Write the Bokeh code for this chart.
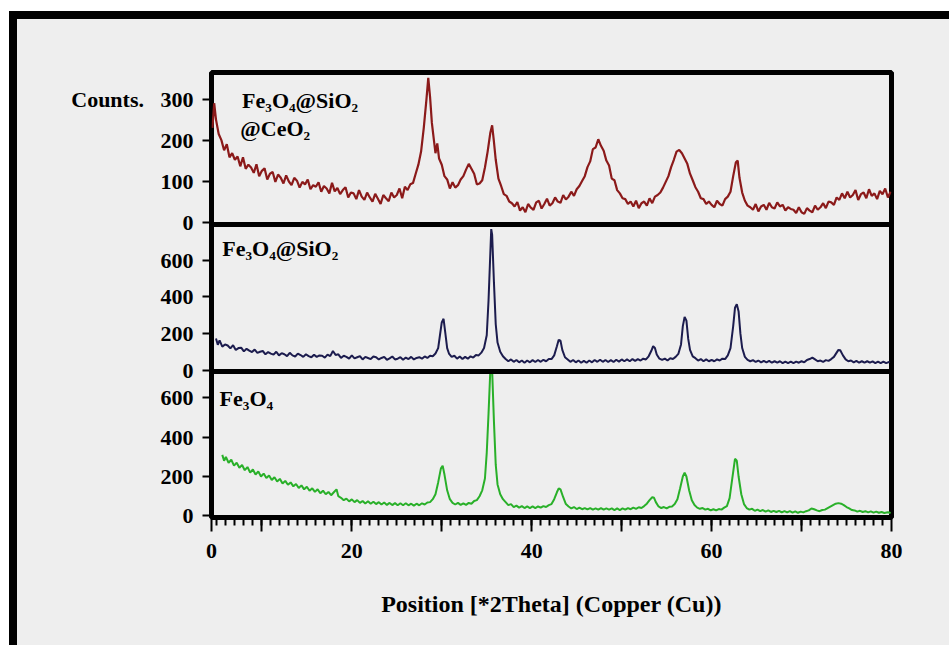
from bokeh.plotting import figure
from bokeh.models import Range1d, FixedTicker, Span, Label
from bokeh.layouts import column
from bokeh.embed import file_html
from bokeh.resources import INLINE

# ---------------- data ----------------
red_x = [4.5, 4.7, 4.9, 5.2, 5.5, 5.8, 6.1, 6.4, 6.7, 7.0, 7.3, 7.6, 7.9, 8.2, 8.5, 8.8, 9.1, 9.4, 9.7, 10.0,
         10.3, 10.6, 10.9, 11.2, 11.5, 11.8, 12.1, 12.4, 12.7, 13.0, 13.3, 13.6, 13.9, 14.2, 14.5, 14.8, 15.1, 15.4, 15.7, 16.0,
         16.3, 16.6, 16.9, 17.2, 17.5, 17.8, 18.1, 18.4, 18.7, 19.0, 19.3, 19.6, 19.9, 20.2, 20.5, 20.8, 21.1, 21.4, 21.7, 22.0,
         22.3, 22.6, 22.9, 23.2, 23.5, 23.8, 24.1, 24.4, 24.7, 25.0, 25.3, 25.6, 25.9, 26.2, 26.5, 26.8, 27.1, 27.4, 27.7, 28.0,
         28.3, 28.5, 28.7, 28.9, 29.1, 29.3, 29.5, 29.7, 30.0, 30.3, 30.6, 30.9, 31.2, 31.5, 31.8, 32.1, 32.4, 32.7, 33.0, 33.3,
         33.6, 33.9, 34.2, 34.5, 34.8, 35.1, 35.4, 35.6, 35.8, 36.0, 36.3, 36.6, 36.9, 37.2, 37.5, 37.8, 38.1, 38.4, 38.7, 39.0,
         39.3, 39.6, 39.9, 40.2, 40.5, 40.8, 41.1, 41.4, 41.7, 42.0, 42.3, 42.6, 42.9, 43.2, 43.5, 43.8, 44.1, 44.4, 44.7, 45.0,
         45.3, 45.6, 45.9, 46.2, 46.5, 46.8, 47.1, 47.4, 47.7, 48.0, 48.3, 48.6, 48.9, 49.2, 49.5, 49.8, 50.1, 50.4, 50.7, 51.0,
         51.3, 51.6, 51.9, 52.2, 52.5, 52.8, 53.1, 53.4, 53.7, 54.0, 54.3, 54.6, 54.9, 55.2, 55.5, 55.8, 56.1, 56.4, 56.7, 57.0,
         57.3, 57.6, 57.9, 58.2, 58.5, 58.8, 59.1, 59.4, 59.7, 60.0, 60.3, 60.6, 60.9, 61.2, 61.5, 61.8, 62.1, 62.4, 62.7, 62.9,
         63.1, 63.4, 63.7, 64.0, 64.3, 64.6, 64.9, 65.2, 65.5, 65.8, 66.1, 66.4, 66.7, 67.0, 67.3, 67.6, 67.9, 68.2, 68.5, 68.8,
         69.1, 69.4, 69.7, 70.0, 70.3, 70.6, 70.9, 71.2, 71.5, 71.8, 72.1, 72.4, 72.7, 73.0, 73.3, 73.6, 73.9, 74.2, 74.5, 74.8,
         75.1, 75.4, 75.7, 76.0, 76.3, 76.6, 76.9, 77.2, 77.5, 77.8, 78.1, 78.4, 78.7, 79.0, 79.3, 79.6, 79.9]
red_y = [230, 290, 250, 215, 200, 175, 190, 158, 168, 152, 160, 136, 158, 130, 140, 133, 120, 141, 112, 125,
         131, 104, 118, 122, 98, 116, 108, 94, 114, 99, 90, 108, 101, 84, 98, 92, 104, 80, 90, 86,
         97, 74, 88, 82, 70, 96, 75, 83, 68, 78, 85, 60, 72, 70, 56, 78, 62, 54, 72, 60,
         50, 69, 57, 44, 66, 58, 51, 72, 60, 66, 82, 58, 86, 78, 92, 95, 118, 140, 172, 230,
         300, 352, 305, 242, 205, 168, 192, 155, 140, 112, 104, 82, 97, 84, 90, 104, 112, 128, 142, 130,
         118, 92, 94, 102, 133, 172, 218, 236, 196, 152, 106, 88, 68, 64, 50, 46, 38, 49, 28, 36,
         24, 44, 35, 30, 48, 52, 33, 44, 57, 40, 46, 60, 50, 47, 66, 55, 62, 74, 64, 80,
         88, 100, 112, 134, 148, 178, 182, 202, 186, 174, 150, 138, 106, 102, 78, 70, 58, 56, 44, 50,
         38, 52, 34, 46, 50, 40, 58, 46, 62, 66, 72, 84, 98, 112, 134, 152, 172, 176, 168, 155,
         142, 118, 102, 85, 74, 58, 56, 44, 50, 42, 36, 52, 44, 40, 56, 62, 74, 112, 146, 150,
         108, 72, 52, 40, 36, 30, 44, 26, 38, 42, 30, 47, 36, 33, 48, 38, 42, 28, 36, 32,
         30, 22, 36, 24, 20, 34, 28, 24, 40, 30, 36, 46, 34, 50, 48, 42, 60, 54, 70, 58,
         74, 60, 66, 78, 54, 68, 72, 58, 80, 64, 70, 56, 76, 68, 82, 60, 74]

blue_x = [4.9, 5.1, 5.3, 5.6, 5.9, 6.2, 6.5, 6.8, 7.1, 7.4, 7.7, 8.0, 8.3, 8.6, 8.9, 9.2, 9.5, 9.8, 10.1, 10.4,
          10.7, 11.0, 11.3, 11.6, 11.9, 12.2, 12.5, 12.8, 13.1, 13.4, 13.7, 14.0, 14.3, 14.6, 14.9, 15.2, 15.5, 15.8, 16.1, 16.4,
          16.7, 17.0, 17.3, 17.6, 17.9, 18.2, 18.5, 18.8, 19.1, 19.4, 19.7, 20.0, 20.3, 20.6, 20.9, 21.2, 21.5, 21.8, 22.1, 22.4,
          22.7, 23.0, 23.3, 23.6, 23.9, 24.2, 24.5, 24.8, 25.1, 25.4, 25.7, 26.0, 26.3, 26.6, 26.9, 27.2, 27.5, 27.8, 28.1, 28.4,
          28.7, 29.0, 29.3, 29.6, 29.8, 30.0, 30.2, 30.4, 30.6, 30.8, 31.1, 31.4, 31.7, 32.0, 32.3, 32.6, 32.9, 33.2, 33.5, 33.8,
          34.1, 34.4, 34.7, 35.0, 35.2, 35.4, 35.5, 35.6, 35.8, 36.0, 36.2, 36.5, 36.8, 37.1, 37.4, 37.7, 38.0, 38.3, 38.6, 38.9,
          39.2, 39.5, 39.8, 40.1, 40.4, 40.7, 41.0, 41.3, 41.6, 41.9, 42.2, 42.5, 42.8, 43.0, 43.2, 43.4, 43.7, 44.0, 44.3, 44.6,
          44.9, 45.2, 45.5, 45.8, 46.1, 46.4, 46.7, 47.0, 47.3, 47.6, 47.9, 48.2, 48.5, 48.8, 49.1, 49.4, 49.7, 50.0, 50.3, 50.6,
          50.9, 51.2, 51.5, 51.8, 52.1, 52.4, 52.7, 53.0, 53.3, 53.5, 53.7, 53.9, 54.2, 54.5, 54.8, 55.1, 55.4, 55.7, 56.0, 56.3,
          56.6, 56.8, 57.0, 57.2, 57.4, 57.6, 57.9, 58.2, 58.5, 58.8, 59.1, 59.4, 59.7, 60.0, 60.3, 60.6, 60.9, 61.2, 61.5, 61.8,
          62.1, 62.4, 62.6, 62.8, 63.0, 63.2, 63.4, 63.7, 64.0, 64.3, 64.6, 64.9, 65.2, 65.5, 65.8, 66.1, 66.4, 66.7, 67.0, 67.3,
          67.6, 67.9, 68.2, 68.5, 68.8, 69.1, 69.4, 69.7, 70.0, 70.3, 70.6, 70.9, 71.2, 71.5, 71.8, 72.1, 72.4, 72.7, 73.0, 73.3,
          73.6, 73.9, 74.1, 74.3, 74.6, 74.9, 75.2, 75.5, 75.8, 76.1, 76.4, 76.7, 77.0, 77.3, 77.6, 77.9, 78.2, 78.5, 78.8, 79.1,
          79.4, 79.8]
blue_y = [172, 138, 162, 128, 140, 134, 118, 136, 110, 120, 122, 102, 116, 106, 98, 112, 94, 100, 104, 86,
          98, 90, 84, 100, 80, 92, 86, 76, 94, 80, 74, 90, 82, 72, 86, 76, 70, 84, 72, 80,
          78, 68, 84, 76, 104, 82, 86, 66, 78, 72, 62, 80, 64, 70, 76, 58, 72, 66, 60, 74,
          70, 58, 66, 72, 56, 64, 74, 58, 62, 70, 56, 68, 60, 72, 58, 66, 70, 62, 74, 66,
          78, 75, 90, 120, 190, 260, 280, 200, 120, 90, 72, 78, 62, 74, 60, 72, 62, 75, 68, 82,
          80, 95, 120, 190, 380, 640, 770, 740, 480, 250, 150, 100, 75, 60, 48, 58, 45, 55, 42, 52,
          40, 52, 42, 54, 44, 55, 45, 56, 48, 60, 60, 80, 130, 165, 160, 110, 70, 58, 45, 55,
          42, 52, 40, 50, 40, 52, 42, 55, 45, 56, 45, 55, 44, 54, 44, 56, 46, 58, 48, 58,
          48, 60, 50, 60, 52, 62, 58, 75, 105, 130, 120, 85, 62, 55, 62, 52, 64, 60, 72, 88,
          140, 240, 290, 270, 170, 110, 75, 65, 52, 60, 48, 58, 48, 56, 48, 58, 52, 62, 60, 80,
          120, 240, 340, 360, 320, 200, 120, 72, 55, 48, 54, 44, 52, 42, 50, 42, 50, 40, 48, 40,
          48, 38, 46, 38, 46, 38, 46, 40, 48, 42, 55, 60, 68, 58, 48, 52, 44, 54, 50, 60,
          72, 95, 110, 108, 80, 58, 48, 52, 42, 50, 40, 48, 40, 48, 40, 47, 38, 46, 38, 46,
          38, 45]

green_x = [5.6, 5.8, 6.0, 6.3, 6.6, 6.9, 7.2, 7.5, 7.8, 8.1, 8.4, 8.7, 9.0, 9.3, 9.6, 9.9, 10.2, 10.5, 10.8, 11.1,
           11.4, 11.7, 12.0, 12.3, 12.6, 12.9, 13.2, 13.5, 13.8, 14.1, 14.4, 14.7, 15.0, 15.3, 15.6, 15.9, 16.2, 16.5, 16.8, 17.1,
           17.4, 17.7, 18.0, 18.3, 18.5, 18.8, 19.1, 19.4, 19.7, 20.0, 20.3, 20.6, 20.9, 21.2, 21.5, 21.8, 22.1, 22.4, 22.7, 23.0,
           23.3, 23.6, 23.9, 24.2, 24.5, 24.8, 25.1, 25.4, 25.7, 26.0, 26.3, 26.6, 26.9, 27.2, 27.5, 27.8, 28.1, 28.4, 28.7, 29.0,
           29.3, 29.6, 29.9, 30.1, 30.3, 30.6, 30.9, 31.2, 31.5, 31.8, 32.1, 32.4, 32.7, 33.0, 33.3, 33.6, 33.9, 34.2, 34.5, 34.8,
           35.0, 35.2, 35.4, 35.6, 35.8, 36.0, 36.2, 36.5, 36.8, 37.1, 37.4, 37.7, 38.0, 38.3, 38.6, 38.9, 39.2, 39.5, 39.8, 40.1,
           40.4, 40.7, 41.0, 41.3, 41.6, 41.9, 42.2, 42.5, 42.8, 43.0, 43.2, 43.5, 43.8, 44.1, 44.4, 44.7, 45.0, 45.3, 45.6, 45.9,
           46.2, 46.5, 46.8, 47.1, 47.4, 47.7, 48.0, 48.3, 48.6, 48.9, 49.2, 49.5, 49.8, 50.1, 50.4, 50.7, 51.0, 51.3, 51.6, 51.9,
           52.2, 52.5, 52.8, 53.1, 53.4, 53.6, 53.8, 54.1, 54.4, 54.7, 55.0, 55.3, 55.6, 55.9, 56.2, 56.5, 56.8, 57.0, 57.2, 57.5,
           57.8, 58.1, 58.4, 58.7, 59.0, 59.3, 59.6, 59.9, 60.2, 60.5, 60.8, 61.1, 61.4, 61.7, 62.0, 62.3, 62.6, 62.8, 63.0, 63.3,
           63.6, 63.9, 64.2, 64.5, 64.8, 65.1, 65.4, 65.7, 66.0, 66.3, 66.6, 66.9, 67.2, 67.5, 67.8, 68.1, 68.4, 68.7, 69.0, 69.3,
           69.6, 69.9, 70.2, 70.5, 70.8, 71.1, 71.4, 71.7, 72.0, 72.3, 72.6, 73.0, 73.4, 73.8, 74.1, 74.4, 74.7, 75.0, 75.3, 75.6,
           75.9, 76.2, 76.5, 76.8, 77.1, 77.4, 77.7, 78.0, 78.3, 78.6, 78.9, 79.2, 79.6, 79.9]
green_y = [310, 280, 300, 270, 285, 255, 270, 245, 258, 232, 248, 220, 236, 210, 226, 200, 215, 192, 205, 182,
           196, 175, 188, 165, 178, 158, 170, 150, 162, 142, 155, 135, 148, 128, 140, 122, 135, 115, 128, 110,
           122, 105, 120, 135, 100, 92, 80, 88, 74, 84, 70, 80, 66, 76, 63, 74, 62, 72, 60, 70,
           58, 68, 56, 66, 55, 65, 54, 64, 54, 64, 54, 62, 52, 62, 54, 64, 58, 68, 70, 85,
           110, 170, 240, 255, 210, 130, 85, 66, 58, 66, 56, 64, 56, 66, 62, 76, 80, 100, 130, 190,
           320, 520, 740, 740, 480, 260, 160, 110, 85, 70, 55, 60, 45, 52, 42, 50, 40, 48, 40, 48,
           40, 48, 42, 50, 45, 55, 60, 85, 120, 140, 135, 95, 60, 48, 38, 45, 35, 42, 34, 40,
           33, 40, 32, 38, 32, 40, 32, 38, 32, 38, 30, 38, 30, 38, 32, 40, 34, 42, 36, 44,
           40, 50, 62, 80, 95, 92, 70, 48, 40, 45, 38, 46, 48, 60, 85, 140, 200, 220, 200, 130,
           80, 55, 42, 36, 40, 32, 36, 28, 34, 28, 35, 32, 42, 50, 90, 190, 290, 280, 200, 110,
           60, 40, 32, 36, 26, 32, 24, 30, 22, 28, 20, 26, 20, 26, 18, 24, 18, 24, 17, 23,
           16, 22, 18, 24, 28, 38, 34, 28, 24, 30, 32, 42, 52, 62, 65, 62, 55, 45, 38, 30,
           28, 22, 26, 20, 24, 18, 23, 17, 22, 16, 20, 15, 19, 15]

series_names = ["Fe\u2083O\u2084@SiO\u2082", "@CeO\u2082", "Fe\u2083O\u2084@SiO\u2082", "Fe\u2083O\u2084"]
series_colors = ["#8b1a1a", "#1c1c4e", "#29b029"]
top_ticks = [0, 100, 200, 300]
mid_ticks = [0, 200, 400, 600]
bot_ticks = [0, 200, 400, 600]
x_major = [10, 20, 30, 40, 50, 60, 70, 80]
x_minor = list(range(5, 80))
x_start, x_end = 4.4, 80
y_label = "Counts."
x_label = "Position [*2Theta] (Copper (Cu))"

# ---------------- layout ----------------
FONT = "Liberation Serif"
BG = "#eeeeee"
FRAME_H = 445
# band (bottom px, top px) in the frame, and count range of each panel
bands = {
    "bot": (0, 146, -8, 733),
    "mid": (146, 293, -8, 795),
    "top": (293, 445, -6, 365),
}

def band_range(name):
    b0, b1, c0, c1 = bands[name]
    s = (c1 - c0) / (b1 - b0)
    return Range1d(c0 - b0 * s, c0 + (FRAME_H - b0) * s)

def to_frame(name, v):
    b0, b1, c0, c1 = bands[name]
    return b0 + (v - c0) * (b1 - b0) / (c1 - c0)

p = figure(frame_width=680, frame_height=FRAME_H,
           min_border_left=194, min_border_right=58, min_border_top=53, min_border_bottom=128,
           x_range=Range1d(x_start, x_end), y_range=Range1d(0, FRAME_H),
           output_backend="svg", toolbar_location=None,
           background_fill_color=BG, border_fill_color=BG)
p.outline_line_color = "black"
p.outline_line_width = 5
p.xgrid.visible = False
p.ygrid.visible = False
p.extra_y_ranges = {k: band_range(k) for k in bands}

p.line(red_x, red_y, y_range_name="top", line_color=series_colors[0], line_width=2.2)
p.line(blue_x, blue_y, y_range_name="mid", line_color=series_colors[1], line_width=2)
p.line(green_x, green_y, y_range_name="bot", line_color=series_colors[2], line_width=2)

for loc in (bands["bot"][1], bands["mid"][1]):
    p.add_layout(Span(location=loc, dimension="width", line_color="black", line_width=5))

# y axis: ticks of all three panels on one left axis
yt, yl = [], {}
for name, ticks in (("top", top_ticks), ("mid", mid_ticks), ("bot", bot_ticks)):
    for t in ticks:
        pos = to_frame(name, t)
        yt.append(pos)
        yl[pos] = str(t)
yl[to_frame("top", 300)] = y_label + "\u00a0\u00a0\u00a0300"
ya = p.yaxis[0]
ya.ticker = FixedTicker(ticks=yt, minor_ticks=[])
ya.major_label_overrides = yl
ya.axis_line_color = None
ya.major_tick_out = 9
ya.major_tick_in = 0
ya.major_tick_line_width = 2
ya.major_label_standoff = 9
ya.major_label_text_font = FONT
ya.major_label_text_font_style = "bold"
ya.major_label_text_font_size = "22px"
ya.major_label_text_color = "black"

xa = p.xaxis[0]
xa.ticker = FixedTicker(ticks=[x_start] + x_major, minor_ticks=x_minor)
xa.major_label_overrides = {x_start: "0", 10: "", 30: "", 50: "", 70: ""}
xa.axis_line_color = None
xa.major_tick_out = 14
xa.major_tick_in = 0
xa.minor_tick_out = 8
xa.minor_tick_in = 0
xa.major_tick_line_width = 2
xa.minor_tick_line_width = 2
xa.major_label_standoff = 12
xa.major_label_text_font = FONT
xa.major_label_text_font_style = "bold"
xa.major_label_text_font_size = "22px"
xa.major_label_text_color = "black"
xa.axis_label = x_label
xa.axis_label_standoff = 30
xa.axis_label_text_font = FONT
xa.axis_label_text_font_style = "bold"
xa.axis_label_text_font_size = "24px"
xa.axis_label_text_color = "black"

label_specs = [(series_names[0], 7.8, 297, "top"), (series_names[1], 7.6, 228, "top"),
               (series_names[2], 5.6, 664, "mid"), (series_names[3], 5.3, 596, "bot")]
for txt, lx, ly, rn in label_specs:
    p.add_layout(Label(x=lx, y=ly, y_range_name=rn, text=txt, text_font=FONT,
                       text_font_style="bold", text_font_size="22px", text_color="black",
                       text_baseline="middle", text_align="left"))

page = column(p, styles={"border-top": "8px solid #000", "border-left": "8px solid #000",
                         "background-color": BG, "margin-top": "11px", "margin-left": "9px"})

open("out.html", "w").write(file_html(page, INLINE))
